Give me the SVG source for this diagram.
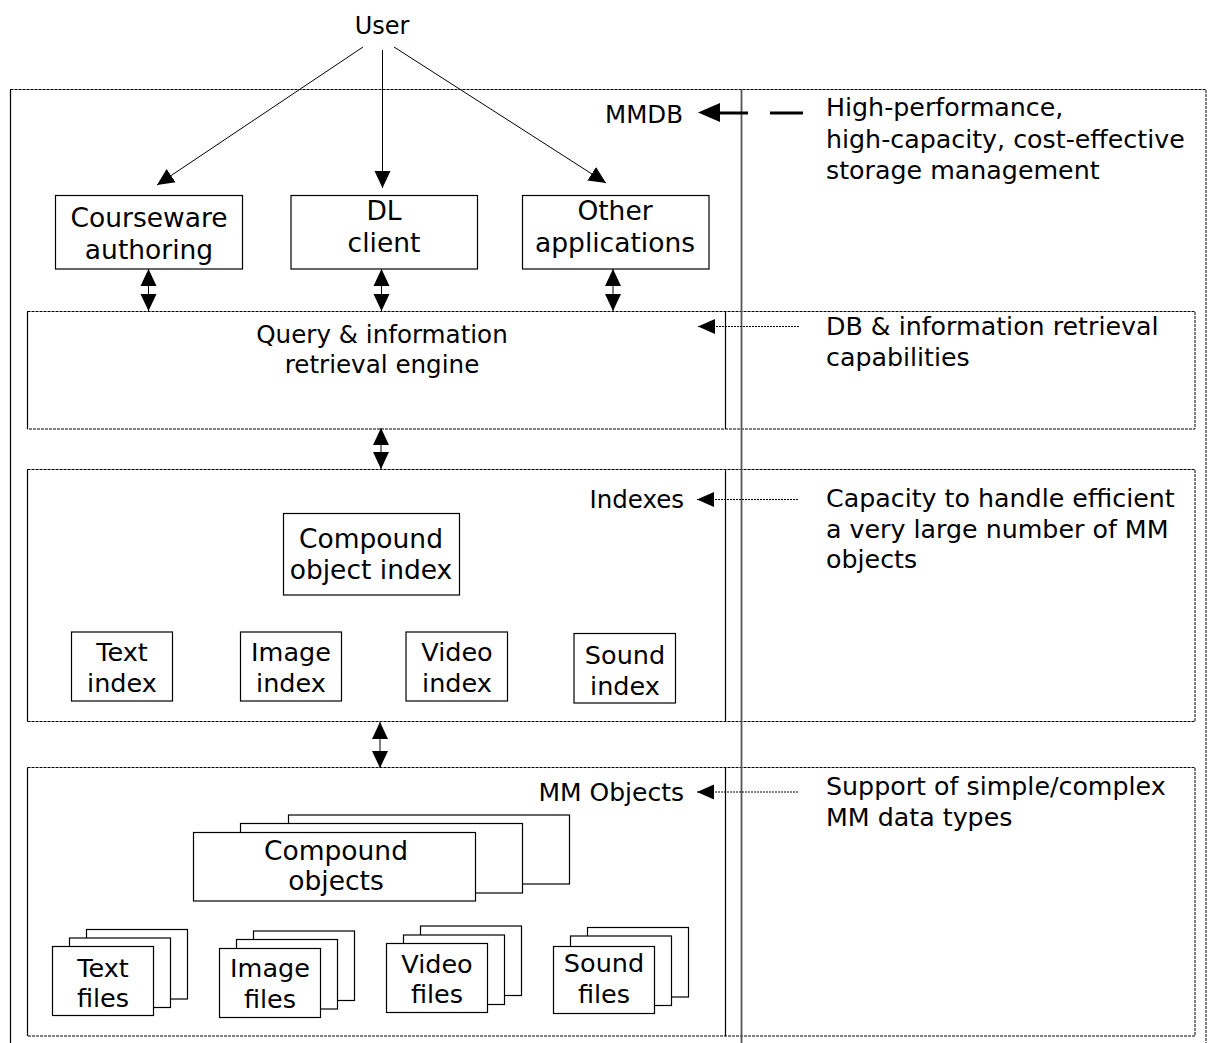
<svg xmlns="http://www.w3.org/2000/svg" width="1210" height="1043" viewBox="0 0 1210 1043">
<defs>
<style>
.t{font-family:"DejaVu Sans","Liberation Sans",sans-serif;fill:#000;text-anchor:middle}
.a{font-family:"DejaVu Sans","Liberation Sans",sans-serif;fill:#000;font-size:25.3px}
.r{text-anchor:end}
.box{fill:#fff;stroke:#000;stroke-width:1.2}
.dot{fill:none;stroke:#000;stroke-width:1;stroke-dasharray:3 1}
.sl{stroke:#000;stroke-width:1.2;fill:none}
.ln{stroke:#000;stroke-width:1;fill:none}
.dl{stroke:#000;stroke-width:1;stroke-dasharray:2 1;fill:none}
</style>
<marker id="h" markerUnits="userSpaceOnUse" markerWidth="18" markerHeight="18" refX="17" refY="8" orient="auto-start-reverse" viewBox="0 0 18 16">
<path d="M0,0 L17,8 L0,16 z" fill="#000"/>
</marker>
<marker id="ha" markerUnits="userSpaceOnUse" markerWidth="18" markerHeight="16" refX="17" refY="7.5" orient="auto" viewBox="0 0 18 15">
<path d="M0,0 L17,7.5 L0,15 z" fill="#000"/>
</marker>
</defs>
<rect width="1210" height="1043" fill="#fff"/>

<g id="mmdb-frame">
<rect class="dot" x="10.5" y="89.5" width="1195.5" height="980"/>
<line class="sl" x1="10.5" y1="89" x2="10.5" y2="1043"/>
<text class="t r" x="683" y="123" font-size="24.5">MMDB</text>
</g>

<g id="query-layer">
<rect class="dot" x="27.5" y="311.5" width="1167.5" height="117.5"/>
<line class="sl" x1="27.5" y1="311.5" x2="27.5" y2="429"/>
<line class="sl" x1="725.5" y1="311.5" x2="725.5" y2="429"/>
<text class="t" x="382" y="343" font-size="24.6">Query &amp; information</text>
<text class="t" x="382" y="373" font-size="24.6">retrieval engine</text>
</g>

<g id="indexes-layer">
<rect class="dot" x="27.5" y="469.5" width="1167.5" height="252"/>
<line class="sl" x1="27.5" y1="469.5" x2="27.5" y2="721.5"/>
<line class="sl" x1="725.5" y1="469.5" x2="725.5" y2="721.5"/>
<text class="t r" x="684" y="508" font-size="24.5">Indexes</text>
</g>

<g id="objects-layer">
<rect class="dot" x="27.5" y="767.5" width="1167.5" height="268.5"/>
<line class="sl" x1="27.5" y1="767.5" x2="27.5" y2="1036"/>
<line class="sl" x1="725.5" y1="767.5" x2="725.5" y2="1036"/>
<text class="t r" x="684" y="801" font-size="25">MM Objects</text>
</g>

<line id="divider" x1="741.5" y1="89" x2="741.5" y2="1043" stroke="#555" stroke-width="1.8"/>

<g id="user"><text class="t" x="382" y="34" font-size="24">User</text></g>

<g id="courseware">
<rect class="box" x="55.5" y="195.5" width="187" height="73.5"/>
<text class="t" x="149" y="227" font-size="26.5">Courseware</text>
<text class="t" x="149" y="259" font-size="26.5">authoring</text>
</g>
<g id="dl-client">
<rect class="box" x="291" y="195.5" width="186.5" height="73.5"/>
<text class="t" x="384" y="220" font-size="26.5">DL</text>
<text class="t" x="384" y="252" font-size="26.5">client</text>
</g>
<g id="other-apps">
<rect class="box" x="522.5" y="195.5" width="186.5" height="73.5"/>
<text class="t" x="615" y="220" font-size="26.5">Other</text>
<text class="t" x="615" y="252" font-size="26.5">applications</text>
</g>

<g id="compound-index">
<rect class="box" x="283.5" y="513.5" width="176" height="81.5"/>
<text class="t" x="371" y="548" font-size="26.5">Compound</text>
<text class="t" x="371" y="579" font-size="26.5">object index</text>
</g>
<g id="text-index">
<rect class="box" x="71.5" y="632" width="101" height="69"/>
<text class="t" x="122" y="661" font-size="25.5">Text</text>
<text class="t" x="122" y="692" font-size="25.5">index</text>
</g>
<g id="image-index">
<rect class="box" x="240.5" y="632" width="101" height="69"/>
<text class="t" x="291" y="661" font-size="25.5">Image</text>
<text class="t" x="291" y="692" font-size="25.5">index</text>
</g>
<g id="video-index">
<rect class="box" x="406" y="632" width="101.5" height="69"/>
<text class="t" x="457" y="661" font-size="25.5">Video</text>
<text class="t" x="457" y="692" font-size="25.5">index</text>
</g>
<g id="sound-index">
<rect class="box" x="574" y="633.5" width="101.5" height="69.5"/>
<text class="t" x="625" y="664" font-size="25.5">Sound</text>
<text class="t" x="625" y="695" font-size="25.5">index</text>
</g>

<g id="compound-objects">
<rect class="box" x="288.5" y="815" width="281" height="69"/>
<rect class="box" x="240.5" y="823.5" width="282" height="69.5"/>
<rect class="box" x="193.5" y="832.5" width="282" height="68.5"/>
<text class="t" x="336" y="860" font-size="26.5">Compound</text>
<text class="t" x="336" y="890" font-size="26.5">objects</text>
</g>
<g id="text-files">
<rect class="box" x="86.5" y="929.5" width="101" height="69.5"/>
<rect class="box" x="69.5" y="938" width="101" height="69.5"/>
<rect class="box" x="52.5" y="946.5" width="101" height="69"/>
<text class="t" x="103" y="977" font-size="25.5">Text</text>
<text class="t" x="103" y="1007" font-size="25.5">files</text>
</g>
<g id="image-files">
<rect class="box" x="253.5" y="931" width="101" height="69.5"/>
<rect class="box" x="236.5" y="939.5" width="101" height="69.5"/>
<rect class="box" x="219.5" y="948.5" width="101" height="69"/>
<text class="t" x="270" y="977" font-size="25.5">Image</text>
<text class="t" x="270" y="1008" font-size="25.5">files</text>
</g>
<g id="video-files">
<rect class="box" x="420.5" y="926" width="101" height="69.5"/>
<rect class="box" x="403.5" y="935" width="101" height="69.5"/>
<rect class="box" x="386.5" y="943.5" width="101" height="69"/>
<text class="t" x="437" y="973" font-size="25.5">Video</text>
<text class="t" x="437" y="1003" font-size="25.5">files</text>
</g>
<g id="sound-files">
<rect class="box" x="587.5" y="927.5" width="101" height="69.5"/>
<rect class="box" x="570.5" y="936" width="101" height="69.5"/>
<rect class="box" x="553.5" y="946.5" width="101" height="67"/>
<text class="t" x="604" y="972" font-size="25.5">Sound</text>
<text class="t" x="604" y="1003" font-size="25.5">files</text>
</g>

<g id="annotations">
<text class="a" x="826" y="116">High-performance,</text>
<text class="a" x="826" y="148">high-capacity, cost-effective</text>
<text class="a" x="826" y="179">storage management</text>
<text class="a" x="826" y="335">DB &amp; information retrieval</text>
<text class="a" x="826" y="366">capabilities</text>
<text class="a" x="826" y="507">Capacity to handle efficient</text>
<text class="a" x="826" y="538">a very large number of MM</text>
<text class="a" x="826" y="568">objects</text>
<text class="a" x="826" y="795">Support of simple/complex</text>
<text class="a" x="826" y="826">MM data types</text>
</g>

<g id="connectors">
<line class="ln" x1="363" y1="47" x2="157" y2="185" marker-end="url(#h)"/>
<line class="ln" x1="382.5" y1="50" x2="382.5" y2="188" marker-end="url(#h)"/>
<line class="ln" x1="394" y1="47" x2="606" y2="183" marker-end="url(#h)"/>

<line class="ln" x1="148.5" y1="269" x2="148.5" y2="311" marker-start="url(#h)" marker-end="url(#h)"/>
<line class="ln" x1="381.5" y1="269" x2="381.5" y2="311" marker-start="url(#h)" marker-end="url(#h)"/>
<line class="ln" x1="613" y1="269" x2="613" y2="311" marker-start="url(#h)" marker-end="url(#h)"/>
<line class="ln" x1="381" y1="428" x2="381" y2="469" marker-start="url(#h)" marker-end="url(#h)"/>
<line class="ln" x1="380" y1="722" x2="380" y2="768" marker-start="url(#h)" marker-end="url(#h)"/>

<line x1="803" y1="113" x2="770" y2="113" stroke="#000" stroke-width="3"/>
<line x1="748" y1="113" x2="716" y2="113" stroke="#000" stroke-width="3"/>
<path d="M698,112.5 L720,103 L720,122 z" fill="#000"/>

<line class="dl" x1="799" y1="326.5" x2="698" y2="326.5" marker-end="url(#ha)"/>
<line class="dl" x1="798" y1="499.5" x2="697" y2="499.5" marker-end="url(#ha)"/>
<line class="dl" x1="798" y1="792" x2="697" y2="792" marker-end="url(#ha)"/>
</g>
</svg>
